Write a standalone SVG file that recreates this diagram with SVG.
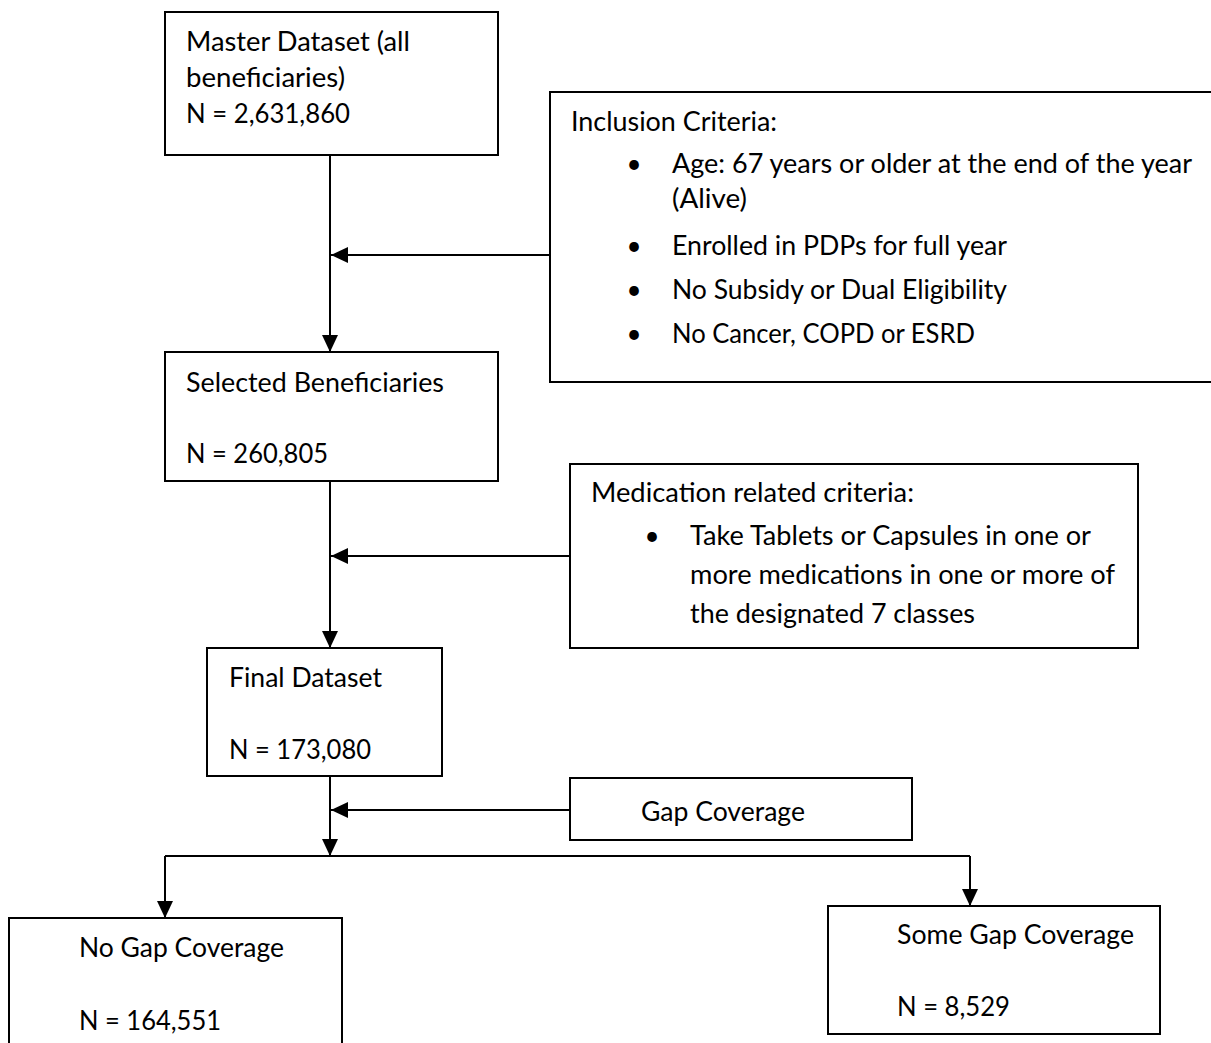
<svg xmlns="http://www.w3.org/2000/svg" width="1211" height="1043" viewBox="0 0 1211 1043">
<style>
  .box { fill: #ffffff; stroke: #000000; stroke-width: 2; }
  .t { font-family: Lato, "Open Sans", "Liberation Sans", sans-serif; font-size: 26px; fill: #000000; }
  .b { font-family: Lato, "Open Sans", "Liberation Sans", sans-serif; font-size: 26px; fill: #000000; text-anchor: middle; }
  .c { fill: none; stroke: #000000; stroke-width: 2; }
</style>
<defs>
  <marker id="arrow" markerUnits="userSpaceOnUse" markerWidth="17" markerHeight="16" refX="17" refY="8" orient="auto">
    <path d="M0,0 L17,8 L0,16 Z" fill="#000000"/>
  </marker>
</defs>
<rect x="0" y="0" width="1211" height="1043" fill="#ffffff"/>

<g id="connectors">
  <line class="c" x1="330" y1="155" x2="330" y2="352" marker-end="url(#arrow)"/>
  <line class="c" x1="550" y1="255" x2="331" y2="255" marker-end="url(#arrow)"/>
  <line class="c" x1="330" y1="481" x2="330" y2="648" marker-end="url(#arrow)"/>
  <line class="c" x1="570" y1="556" x2="331" y2="556" marker-end="url(#arrow)"/>
  <line class="c" x1="330" y1="776" x2="330" y2="856" marker-end="url(#arrow)"/>
  <line class="c" x1="570" y1="810" x2="331" y2="810" marker-end="url(#arrow)"/>
  <path class="c" d="M165,856 L970,856"/>
  <line class="c" x1="165" y1="856" x2="165" y2="918" marker-end="url(#arrow)"/>
  <line class="c" x1="970" y1="856" x2="970" y2="906" marker-end="url(#arrow)"/>
</g>

<g id="master">
  <rect class="box" x="165" y="12" width="333" height="143"/>
  <text class="t" x="186" y="51" textLength="224" lengthAdjust="spacingAndGlyphs">Master Dataset (all</text>
  <text class="t" x="186" y="87" textLength="159" lengthAdjust="spacingAndGlyphs">beneficiaries)</text>
  <text class="t" x="186" y="123" textLength="164" lengthAdjust="spacingAndGlyphs">N = 2,631,860</text>
</g>

<g id="inclusion">
  <rect class="box" x="550" y="92" width="666" height="290"/>
  <text class="t" x="571" y="131" textLength="206" lengthAdjust="spacingAndGlyphs">Inclusion Criteria:</text>
  <text class="b" x="634" y="173">•</text>
  <text class="t" x="672" y="173" textLength="520" lengthAdjust="spacingAndGlyphs">Age: 67 years or older at the end of the year</text>
  <text class="t" x="672" y="208" textLength="75" lengthAdjust="spacingAndGlyphs">(Alive)</text>
  <text class="b" x="634" y="255">•</text>
  <text class="t" x="672" y="255" textLength="335" lengthAdjust="spacingAndGlyphs">Enrolled in PDPs for full year</text>
  <text class="b" x="634" y="299">•</text>
  <text class="t" x="672" y="299" textLength="335" lengthAdjust="spacingAndGlyphs">No Subsidy or Dual Eligibility</text>
  <text class="b" x="634" y="343">•</text>
  <text class="t" x="672" y="343" textLength="303" lengthAdjust="spacingAndGlyphs">No Cancer, COPD or ESRD</text>
</g>

<g id="selected">
  <rect class="box" x="165" y="352" width="333" height="129"/>
  <text class="t" x="186" y="392" textLength="258" lengthAdjust="spacingAndGlyphs">Selected Beneficiaries</text>
  <text class="t" x="186" y="463" textLength="142" lengthAdjust="spacingAndGlyphs">N = 260,805</text>
</g>

<g id="medication">
  <rect class="box" x="570" y="464" width="568" height="184"/>
  <text class="t" x="591" y="502" textLength="323" lengthAdjust="spacingAndGlyphs">Medication related criteria:</text>
  <text class="b" x="652" y="545">•</text>
  <text class="t" x="690" y="545" textLength="401" lengthAdjust="spacingAndGlyphs">Take Tablets or Capsules in one or</text>
  <text class="t" x="690" y="584" textLength="425" lengthAdjust="spacingAndGlyphs">more medications in one or more of</text>
  <text class="t" x="690" y="623" textLength="285" lengthAdjust="spacingAndGlyphs">the designated 7 classes</text>
</g>

<g id="final">
  <rect class="box" x="207" y="648" width="235" height="128"/>
  <text class="t" x="229" y="687" textLength="153" lengthAdjust="spacingAndGlyphs">Final Dataset</text>
  <text class="t" x="229" y="759" textLength="142" lengthAdjust="spacingAndGlyphs">N = 173,080</text>
</g>

<g id="gap">
  <rect class="box" x="570" y="778" width="342" height="62"/>
  <text class="t" x="641" y="821" textLength="164" lengthAdjust="spacingAndGlyphs">Gap Coverage</text>
</g>

<g id="nogap">
  <rect class="box" x="9" y="918" width="333" height="140"/>
  <text class="t" x="79" y="957" textLength="205" lengthAdjust="spacingAndGlyphs">No Gap Coverage</text>
  <text class="t" x="79" y="1030" textLength="142" lengthAdjust="spacingAndGlyphs">N = 164,551</text>
</g>

<g id="somegap">
  <rect class="box" x="828" y="906" width="332" height="128"/>
  <text class="t" x="897" y="944" textLength="237" lengthAdjust="spacingAndGlyphs">Some Gap Coverage</text>
  <text class="t" x="897" y="1016" textLength="113" lengthAdjust="spacingAndGlyphs">N = 8,529</text>
</g>
</svg>
